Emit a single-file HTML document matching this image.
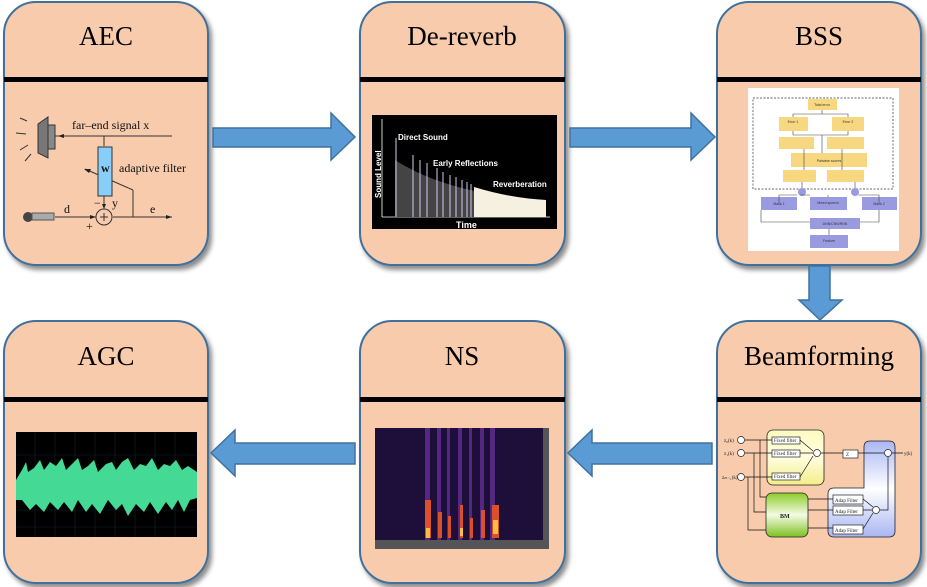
<!DOCTYPE html>
<html><head><meta charset="utf-8"><style>
html,body{margin:0;padding:0;background:#fff;width:927px;height:587px;overflow:hidden}
svg{display:block}
</style></head><body>
<svg width="927" height="587" viewBox="0 0 927 587" xmlns="http://www.w3.org/2000/svg" font-family="Liberation Serif, serif">
<defs>
<filter id="sh" x="-10%" y="-10%" width="130%" height="130%"><feDropShadow dx="3" dy="4" stdDeviation="2.5" flood-color="#000" flood-opacity="0.45"/></filter>
<linearGradient id="gy" x1="0" y1="0" x2="0" y2="1"><stop offset="0" stop-color="#fdfbc0"/><stop offset="0.5" stop-color="#fffde0"/><stop offset="1" stop-color="#f4ee8a"/></linearGradient>
<linearGradient id="gg" x1="0" y1="0" x2="0" y2="1"><stop offset="0" stop-color="#8ccc2a"/><stop offset="0.5" stop-color="#f4fbe4"/><stop offset="1" stop-color="#7cc020"/></linearGradient>
<linearGradient id="gb" x1="0" y1="0" x2="0" y2="1"><stop offset="0" stop-color="#a9b6f4"/><stop offset="0.5" stop-color="#ffffff"/><stop offset="1" stop-color="#a9b6f4"/></linearGradient>
</defs>
<g fill="#F7CBAC" stroke="#41719C" stroke-width="2" filter="url(#sh)">
<rect x="4" y="2" width="204" height="263" rx="32"/>
<rect x="360" y="2" width="205" height="263" rx="32"/>
<rect x="717" y="2" width="204" height="263" rx="32"/>
<rect x="4" y="321" width="204" height="262" rx="32"/>
<rect x="360" y="321" width="205" height="262" rx="32"/>
<rect x="717" y="321" width="204" height="262" rx="32"/>
</g>
<g fill="#000">
<rect x="4" y="77" width="204" height="5"/><rect x="360" y="77" width="205" height="5"/><rect x="717" y="77" width="204" height="5"/>
<rect x="4" y="397" width="204" height="5"/><rect x="360" y="397" width="205" height="5"/><rect x="717" y="397" width="204" height="5"/>
</g>
<g font-size="27" text-anchor="middle" fill="#000">
<text x="106" y="45">AEC</text><text x="462" y="45">De-reverb</text><text x="819" y="45">BSS</text>
<text x="106" y="365">AGC</text><text x="462" y="365">NS</text><text x="819" y="365">Beamforming</text>
</g>
<!-- arrows -->
<g fill="#5B9BD5" stroke="#41719C" stroke-width="1.5">
<path d="M213 128 H331 V113 L355 137 L331 160 V147 H213 Z"/>
<path d="M570 128 H691 V113 L715 137 L691 160 V147 H570 Z"/>
<path d="M809 266 H830 V300 H842 L820 320 L799 300 H809 Z"/>
<path d="M355 443 H235 V430 L211 453 L235 476 V464 H355 Z"/>
<path d="M712 443 H592 V430 L568 453 L592 476 V464 H712 Z"/>
</g>
<!-- AEC diagram -->
<g stroke="#333" stroke-width="1" fill="none">
<path d="M20 118 L27 121 M16 133 L26 134 M20 150 L28 145 M25 161 L31 154"/>
<line x1="55" y1="136" x2="172" y2="136"/>
<line x1="104" y1="136" x2="104" y2="146"/>
<line x1="104" y1="196" x2="104" y2="208"/>
<line x1="55" y1="217" x2="96" y2="217"/>
<line x1="113" y1="217" x2="172" y2="217"/>
<line x1="133" y1="217" x2="133" y2="190"/><line x1="133" y1="190" x2="85" y2="169"/>
<circle cx="104" cy="217" r="8"/>
<path d="M100 217 H108 M104 213 V221"/>
</g>
<path d="M58 136 L64 134 L64 138Z M172 217 L166 215 L166 219Z M96 217 L90 215 L90 219Z M104 209 L102 204 L106 204Z M84 169 L91 169 L89 173Z" fill="#222"/>
<polygon points="38,124 48,117 48,158 38,153" fill="#777" stroke="#333"/>
<rect x="48" y="125" width="7" height="24" fill="#888" stroke="#333"/>
<rect x="98" y="147" width="14" height="49" fill="#87CEFA" stroke="#333"/>
<circle cx="28" cy="217" r="5" fill="#444"/><rect x="32" y="213" width="22" height="7" fill="#aaa" stroke="#555"/>
<g font-size="12" fill="#111">
<text x="72" y="129">far–end signal x</text>
<text x="101" y="172" font-weight="bold">w</text>
<text x="119" y="172">adaptive filter</text>
<text x="64" y="213">d</text><text x="150" y="213">e</text>
<text x="94" y="207">−</text><text x="112" y="207">y</text><text x="86" y="230">+</text>
</g>
<!-- De-reverb -->
<rect x="372" y="115" width="185" height="114" fill="#000"/>
<g stroke="#fff" stroke-width="0.8">
<line x1="382" y1="119" x2="382" y2="217"/><line x1="382" y1="217" x2="550" y2="217"/>
</g>
<path d="M395 160 Q450 195 545 200 V217 H395 Z" fill="#444"/>
<g stroke="#d8c8f0" stroke-width="1">
<line x1="396" y1="138" x2="396" y2="217"/><line x1="413" y1="155" x2="413" y2="217"/><line x1="420" y1="160" x2="420" y2="217"/>
<line x1="427" y1="163" x2="427" y2="217"/><line x1="437" y1="168" x2="437" y2="217"/><line x1="443" y1="172" x2="443" y2="217"/>
<line x1="450" y1="175" x2="450" y2="217"/><line x1="456" y1="177" x2="456" y2="217"/><line x1="462" y1="180" x2="462" y2="217"/>
<line x1="467" y1="182" x2="467" y2="217"/><line x1="471" y1="184" x2="471" y2="217"/>
</g>
<path d="M474 187 Q510 198 546 200 V217 H474 Z" fill="#f5f0e0"/>
<g font-family="Liberation Sans, sans-serif" font-weight="bold" fill="#fff" font-size="8">
<text x="398" y="140">Direct Sound</text><text x="433" y="166">Early Reflections</text><text x="493" y="187">Reverberation</text>
<text x="456" y="228" font-size="9">Time</text>
<text transform="translate(381,198) rotate(-90)">Sound Level</text>
</g>
<!-- BSS -->
<rect x="748" y="88" width="151" height="163" fill="#fff"/>
<rect x="753" y="98" width="140" height="91" fill="none" stroke="#333" stroke-width="0.7" stroke-dasharray="2,1.5"/>
<g fill="#F7D780">
<rect x="808" y="99" width="29" height="11"/><rect x="779" y="117" width="29" height="14"/><rect x="832" y="117" width="32" height="14"/>
<rect x="779" y="137" width="35" height="12"/><rect x="827" y="137" width="37" height="12"/><rect x="791" y="153" width="76" height="14"/>
<rect x="783" y="170" width="33" height="12"/><rect x="827" y="170" width="37" height="12"/>
</g>
<g fill="#9A9AE0"><rect x="761" y="197" width="36" height="13"/><rect x="810" y="197" width="37" height="13"/><rect x="862" y="197" width="35" height="13"/>
<rect x="810" y="218" width="50" height="11"/><rect x="810" y="235" width="38" height="13"/><circle cx="802" cy="192" r="4"/><circle cx="855" cy="192" r="4"/></g>
<g stroke="#444" stroke-width="0.6" fill="none">
<path d="M822 110 V114 M793 117 V114 H848 V117 M793 131 V135 H848 V131 M822 135 V153 M804 149 V170 M842 149 V170 M802 182 V188 M855 182 V188"/>
<path d="M779 203 V195 H797 M810 195 H800 M879 203 V195 H858 M828 197 V195 M761 210 V222 H810 M879 210 V222 H860 M829 229 V235"/>
</g>
<g font-family="Liberation Sans, sans-serif" font-size="3.5" fill="#333" text-anchor="middle">
<text x="822" y="106">Total error</text><text x="793" y="123">Error 1</text><text x="848" y="123">Error 2</text>
<text x="829" y="162">Pairwise scores</text><text x="835" y="225">DNN/CNN/RNN</text><text x="829" y="242">Feature</text>
<text x="779" y="205">Mask 1</text><text x="828" y="204">Mixed speech</text><text x="879" y="205">Mask 2</text>
</g>
<!-- Beamforming -->
<rect x="767" y="430" width="57" height="55" rx="6" fill="url(#gy)" stroke="#222" stroke-width="0.8"/>
<rect x="766" y="493" width="42" height="44" rx="6" fill="url(#gg)" stroke="#222" stroke-width="0.8"/>
<path d="M870 441 H889 Q895 441 895 447 V531 Q895 537 889 537 H834 Q828 537 828 531 V494 Q828 488 834 488 H864 V447 Q864 441 870 441 Z" fill="url(#gb)" stroke="#222" stroke-width="0.8"/>
<g fill="#fff" stroke="#222" stroke-width="0.7">
<rect x="772" y="437" width="28" height="7"/><rect x="772" y="450" width="28" height="7"/><rect x="772" y="473" width="28" height="7"/>
<rect x="843" y="450" width="15" height="8"/>
<rect x="833" y="495" width="30" height="9"/><rect x="833" y="506" width="30" height="9"/><rect x="833" y="525" width="30" height="9"/>
<circle cx="741" cy="440" r="3.5"/><circle cx="741" cy="453" r="3.5"/><circle cx="741" cy="477" r="3.5"/>
<circle cx="817" cy="453" r="3.5"/><circle cx="888" cy="453" r="3.5"/><circle cx="876" cy="510" r="3.5"/>
</g>
<g stroke="#111" stroke-width="0.7" fill="none">
<path d="M745 440 H772 M745 453 H772 M745 477 H772 M800 440 L813 451 M800 453 H813 M800 477 L813 456 M821 453 H843 M858 453 H884 M892 453 H903 M888 457 V510 H880"/>
<path d="M760 440 V497 H766 M754 453 V512 H766 M748 477 V530 H766 M808 499 H833 M808 510 H833 M808 528 H833 M863 499 L873 507 M863 510 H872 M863 529 L873 513"/>
</g>
<g font-size="5" fill="#222">
<text x="774" y="442">Fixed filter</text><text x="774" y="455">Fixed filter</text><text x="774" y="478">Fixed filter</text>
<text x="846" y="456">Z</text><text x="835" y="502">Adap Filter</text><text x="835" y="513">Adap Filter</text><text x="835" y="532">Adap Filter</text>
<text x="780" y="518" font-weight="bold" font-size="6">BM</text>
<text x="724" y="442">z₀(k)</text><text x="724" y="455">z₁(k)</text><text x="722" y="479">zₘ₋₁(k)</text><text x="904" y="455">y(k)</text>
</g>
<!-- NS spectrogram -->
<rect x="375" y="428" width="174" height="121" fill="#1e0f3a"/>
<rect x="375" y="540" width="174" height="9" fill="#555"/>
<rect x="543" y="428" width="6" height="112" fill="#555"/>
<g fill="#5a2a8a" opacity="0.9">
<rect x="425" y="428" width="5" height="112"/><rect x="437" y="428" width="4" height="112"/><rect x="447" y="428" width="3" height="112"/>
<rect x="458" y="428" width="4" height="112"/><rect x="469" y="428" width="3" height="112"/><rect x="480" y="428" width="4" height="112"/><rect x="490" y="428" width="5" height="112"/>
</g>
<g fill="#d9502a">
<rect x="425" y="500" width="6" height="38"/><rect x="438" y="512" width="4" height="26"/><rect x="448" y="516" width="3" height="22"/>
<rect x="460" y="505" width="3" height="33"/><rect x="470" y="518" width="3" height="20"/><rect x="481" y="510" width="4" height="28"/><rect x="492" y="505" width="7" height="33"/>
</g>
<g fill="#f6c040"><rect x="426" y="528" width="4" height="10"/><rect x="493" y="520" width="5" height="14"/><rect x="460" y="528" width="3" height="8"/></g>
<!-- AGC waveform -->
<rect x="16" y="432" width="181" height="105" fill="#000"/>
<g stroke="#123" stroke-width="0.6">
<path d="M16 455 H197 M16 473 H197 M16 510 H197 M16 527 H197 M35 432 V537 M55 432 V537 M75 432 V537 M95 432 V537 M115 432 V537 M135 432 V537 M155 432 V537 M175 432 V537"/>
</g>
<path d="M16 480 L22 470 L26 462 L28 472 L34 468 L40 460 L44 470 L50 462 L56 466 L62 458 L66 470 L72 464 L78 458 L82 470 L88 466 L94 460 L98 472 L106 464 L112 462 L116 470 L122 462 L128 458 L134 470 L140 464 L146 466 L152 458 L158 470 L164 464 L170 466 L176 460 L182 470 L188 466 L197 472 L197 498 L190 500 L184 512 L178 500 L172 510 L166 502 L158 514 L150 502 L144 512 L136 504 L128 516 L122 504 L116 510 L108 500 L100 514 L92 504 L86 512 L78 500 L72 512 L64 502 L58 510 L50 502 L44 512 L36 504 L30 510 L22 500 L16 500 Z" fill="#44d995"/>
</svg>
</body></html>
